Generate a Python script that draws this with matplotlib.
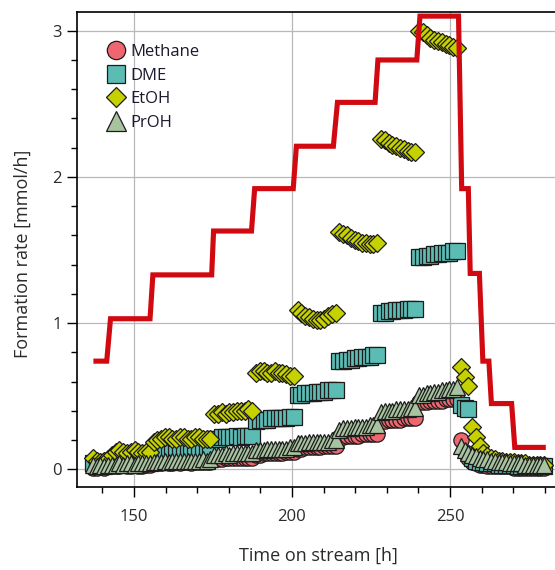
import matplotlib
matplotlib.use('Agg')
import matplotlib.pyplot as plt
from matplotlib.ticker import MultipleLocator

plt.rcParams['font.family'] = ['Open Sans', 'DejaVu Sans']

# sampling times [h]
tos = [137.0, 138.2, 139.4, 140.6, 141.8,
       143.0, 144.2, 145.4, 146.6, 147.8, 149.0, 150.2, 151.4, 152.6, 153.8, 155.0,
       156.2, 157.4, 158.6, 159.8, 161.0, 162.2, 163.4, 164.6, 165.8, 167.0, 168.2, 169.4, 170.6, 171.8, 173.0, 174.2,
       175.4, 176.6, 177.8, 179.0, 180.2, 181.4, 182.6, 183.8, 185.0, 186.2, 187.4,
       188.6, 189.8, 191.0, 192.2, 193.4, 194.6, 195.8, 197.0, 198.2, 199.4, 200.6,
       201.8, 203.0, 204.2, 205.4, 206.6, 207.8, 209.0, 210.2, 211.4, 212.6, 213.8,
       215.0, 216.2, 217.4, 218.6, 219.8, 221.0, 222.2, 223.4, 224.6, 225.8, 227.0,
       228.2, 229.4, 230.6, 231.8, 233.0, 234.2, 235.4, 236.6, 237.8, 239.0,
       240.2, 241.4, 242.6, 243.8, 245.0, 246.2, 247.4, 248.6, 249.8, 251.0, 252.2,
       253.4, 254.6, 255.8,
       257.0, 258.2, 259.4,
       260.6, 261.8, 263.0, 264.2, 265.4, 266.6, 267.8, 269.0, 270.2, 271.4, 272.6, 273.8, 275.0, 276.2, 277.4, 278.6, 279.8]

# formation rates [mmol/h]
methane = [0.01, 0.01, 0.02, 0.01, 0.02,
           0.02, 0.02, 0.02, 0.03, 0.02, 0.02, 0.03, 0.02, 0.02, 0.03, 0.03,
           0.04, 0.04, 0.04, 0.05, 0.04, 0.04, 0.05, 0.04, 0.05, 0.05, 0.04, 0.05, 0.05, 0.05, 0.05, 0.05,
           0.07, 0.07, 0.07, 0.08, 0.08, 0.08, 0.08, 0.08, 0.08, 0.08, 0.08,
           0.10, 0.10, 0.11, 0.11, 0.11, 0.11, 0.11, 0.11, 0.12, 0.12, 0.12,
           0.14, 0.14, 0.15, 0.15, 0.15, 0.15, 0.15, 0.16, 0.16, 0.16, 0.16,
           0.22, 0.22, 0.23, 0.23, 0.23, 0.23, 0.24, 0.24, 0.24, 0.24, 0.24,
           0.33, 0.33, 0.34, 0.34, 0.34, 0.34, 0.35, 0.35, 0.35, 0.35,
           0.46, 0.46, 0.46, 0.47, 0.47, 0.47, 0.47, 0.48, 0.48, 0.48, 0.48,
           0.20, 0.12, 0.08,
           0.05, 0.04, 0.03,
           0.03, 0.02, 0.02, 0.02, 0.02, 0.02, 0.02, 0.02, 0.01, 0.01, 0.01, 0.01, 0.01, 0.01, 0.01, 0.01, 0.01]

dme = [0.04, 0.04, 0.05, 0.04, 0.05,
       0.06, 0.07, 0.06, 0.07, 0.07, 0.06, 0.07, 0.07, 0.06, 0.07, 0.07,
       0.11, 0.11, 0.12, 0.12, 0.12, 0.12, 0.13, 0.12, 0.12, 0.13, 0.13, 0.12, 0.13, 0.13, 0.13, 0.13,
       0.21, 0.21, 0.22, 0.22, 0.22, 0.22, 0.23, 0.22, 0.23, 0.23, 0.23,
       0.33, 0.34, 0.34, 0.34, 0.35, 0.35, 0.35, 0.35, 0.35, 0.36, 0.36,
       0.51, 0.51, 0.52, 0.52, 0.52, 0.53, 0.53, 0.53, 0.54, 0.54, 0.54,
       0.74, 0.74, 0.75, 0.75, 0.76, 0.76, 0.77, 0.77, 0.77, 0.78, 0.78,
       1.07, 1.07, 1.08, 1.08, 1.09, 1.09, 1.09, 1.10, 1.10, 1.10,
       1.45, 1.45, 1.46, 1.46, 1.47, 1.47, 1.48, 1.48, 1.48, 1.49, 1.49,
       0.44, 0.42, 0.41,
       0.08, 0.06, 0.05,
       0.05, 0.04, 0.04, 0.04, 0.03, 0.03, 0.03, 0.03, 0.03, 0.02, 0.02, 0.02, 0.02, 0.02, 0.02, 0.02, 0.02]

etoh = [0.08, 0.06, 0.05, 0.06, 0.07,
        0.10, 0.12, 0.13, 0.12, 0.11, 0.12, 0.13, 0.12, 0.11, 0.12, 0.12,
        0.19, 0.20, 0.21, 0.22, 0.22, 0.21, 0.21, 0.22, 0.22, 0.21, 0.21, 0.22, 0.22, 0.21, 0.21, 0.21,
        0.38, 0.38, 0.39, 0.38, 0.39, 0.39, 0.40, 0.40, 0.40, 0.41, 0.40,
        0.66, 0.67, 0.67, 0.66, 0.66, 0.67, 0.66, 0.66, 0.65, 0.64, 0.64,
        1.09, 1.07, 1.05, 1.04, 1.03, 1.02, 1.02, 1.03, 1.05, 1.06, 1.07,
        1.62, 1.61, 1.60, 1.58, 1.57, 1.56, 1.55, 1.55, 1.54, 1.54, 1.55,
        2.26, 2.25, 2.23, 2.22, 2.21, 2.20, 2.19, 2.18, 2.17, 2.17,
        3.00, 2.99, 2.97, 2.95, 2.94, 2.93, 2.92, 2.91, 2.90, 2.89, 2.88,
        0.70, 0.63, 0.57,
        0.29, 0.22, 0.16,
        0.11, 0.09, 0.08, 0.07, 0.06, 0.06, 0.05, 0.05, 0.05, 0.04, 0.04, 0.04, 0.03, 0.03, 0.03, 0.03, 0.03]

proh = [0.03, 0.02, 0.03, 0.02, 0.03,
        0.03, 0.03, 0.04, 0.03, 0.04, 0.04, 0.03, 0.04, 0.04, 0.04, 0.04,
        0.05, 0.05, 0.05, 0.06, 0.05, 0.06, 0.06, 0.06, 0.06, 0.06, 0.06, 0.06, 0.06, 0.07, 0.06, 0.07,
        0.10, 0.10, 0.10, 0.11, 0.10, 0.11, 0.11, 0.11, 0.11, 0.11, 0.11,
        0.13, 0.13, 0.13, 0.14, 0.14, 0.14, 0.14, 0.14, 0.14, 0.15, 0.15,
        0.18, 0.18, 0.18, 0.19, 0.19, 0.19, 0.19, 0.19, 0.19, 0.20, 0.20,
        0.27, 0.28, 0.28, 0.28, 0.29, 0.29, 0.29, 0.29, 0.30, 0.30, 0.30,
        0.39, 0.40, 0.40, 0.40, 0.41, 0.41, 0.41, 0.41, 0.42, 0.42,
        0.51, 0.51, 0.52, 0.52, 0.53, 0.53, 0.54, 0.54, 0.55, 0.55, 0.56,
        0.16, 0.13, 0.11,
        0.10, 0.09, 0.08,
        0.07, 0.07, 0.06, 0.06, 0.05, 0.05, 0.05, 0.04, 0.04, 0.04, 0.04, 0.03, 0.03, 0.03, 0.03, 0.03, 0.03]

# stepped red curve
step_t = [138.0, 141.4, 142.6, 155.1, 156.0, 174.6, 175.2, 187.2, 188.2, 200.4, 201.4, 213.1, 214.4,
          226.3, 227.2, 239.5, 240.5, 252.7, 253.7, 255.8, 256.4, 259.3, 260.4, 262.3, 263.1, 269.5,
          270.5, 279.5]
step_v = [0.74, 0.74, 1.03, 1.03, 1.33, 1.33, 1.63, 1.63, 1.92, 1.92, 2.21, 2.21, 2.51,
          2.51, 2.80, 2.80, 3.10, 3.10, 1.92, 1.92, 1.34, 1.34, 0.74, 0.74, 0.45, 0.45,
          0.15, 0.15]

labels = ['Methane', 'DME', 'EtOH', 'PrOH']
series = [methane, dme, etoh, proh]
markers = ['o', 's', 'D', '^']
sizes = [11, 11.2, 8.8, 11.5]
colors = ['#ef6670', '#5bbcb4', '#c6d200', '#a8c3a0']

fig = plt.figure(figsize=(5.55, 5.70), dpi=100)
ax = fig.add_axes([0.1382, 0.1461, 0.9004, 0.8323])

for vals, lab, m, ms, c in zip(series, labels, markers, sizes, colors):
    ax.plot(tos, vals, ls='none', marker=m, ms=ms, mfc=c, mec='#1c1c1c',
            mew=0.9, label=lab, zorder=3)

ax.plot(step_t, step_v, color='#d10a12', lw=3.7, solid_joinstyle='miter', zorder=4)

ax.set_xlim(131.9, 290)
ax.set_ylim(-0.119, 3.126)
ax.xaxis.set_major_locator(MultipleLocator(50))
ax.xaxis.set_minor_locator(MultipleLocator(10))
ax.yaxis.set_major_locator(MultipleLocator(1))
ax.yaxis.set_minor_locator(MultipleLocator(0.2))

ax.grid(which='major', color='#b8b8b8', lw=0.9)
ax.set_axisbelow(True)
ax.tick_params(which='major', direction='out', length=7, width=1, pad=4,
               labelsize=12, labelcolor='#2a2a2a')
ax.tick_params(axis='x', which='major', pad=9)
ax.tick_params(which='minor', direction='out', length=4, width=1)
for s in ax.spines.values():
    s.set_linewidth(1.2)

ax.set_xlabel('Time on stream [h]', fontsize=13, color='#2a2a2a')
ax.set_ylabel('Formation rate [mmol/h]', fontsize=13, color='#2a2a2a')
ax.xaxis.set_label_coords(0.483, -0.127)
ax.yaxis.set_label_coords(-0.089, 0.49)

ax.legend(loc='upper left', bbox_to_anchor=(0.04, 0.958), frameon=False,
          fontsize=12, markerscale=1.2, handlelength=0.9, handletextpad=0.45,
          labelspacing=0.46, borderpad=0.2, labelcolor='#1a1a2e')

fig.savefig('out.png', dpi=100)
